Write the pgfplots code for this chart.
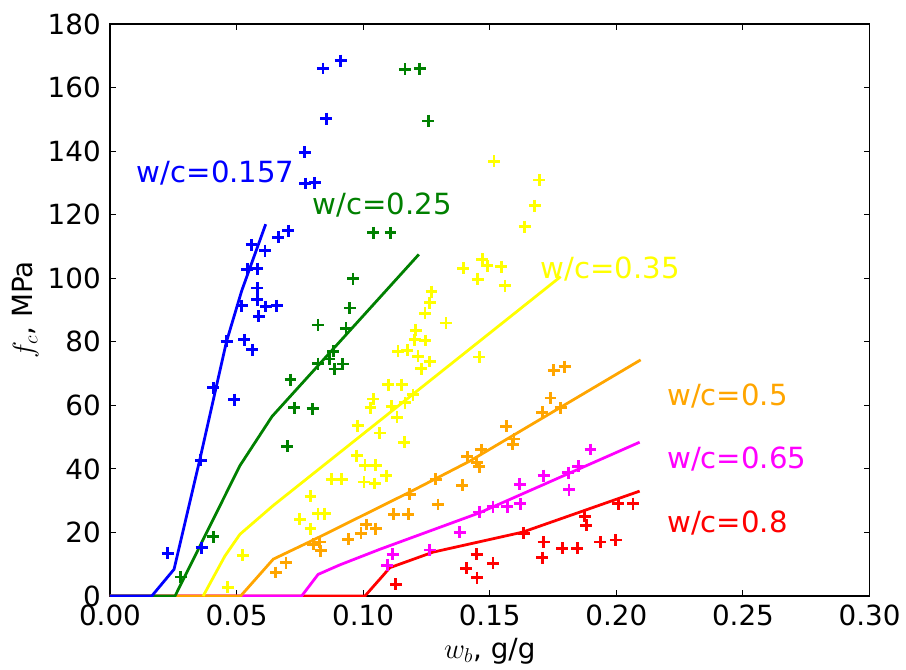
\documentclass[border=0pt]{standalone}
\usepackage{fontspec}
\setmainfont{DejaVu Sans}
\usepackage{pgfplots}
\pgfplotsset{compat=1.18}
\definecolor{mblue}{RGB}{0,0,255}
\definecolor{mgreen}{RGB}{0,128,0}
\definecolor{myellow}{RGB}{255,255,0}
\definecolor{morange}{RGB}{255,165,0}
\definecolor{mmagenta}{RGB}{255,0,255}
\definecolor{mred}{RGB}{255,0,0}
\begin{document}
\begin{tikzpicture}
\path (-79.2pt,-52.56pt) rectangle (573.12pt,429.12pt);
\begin{axis}[
  at={(0,0)}, anchor=south west,
  width=546.84pt, height=411.84pt, scale only axis,
  xmin=0, xmax=0.30, ymin=0, ymax=180,
  xtick={0,0.05,0.10,0.15,0.20,0.25,0.30},
  xticklabels={0.00,0.05,0.10,0.15,0.20,0.25,0.30},
  ytick={0,20,40,60,80,100,120,140,160,180},
  yticklabels={0,20,40,60,80,100,120,140,160,180},
  tick align=inside, tick pos=both,
  major tick length=4.2pt,
  tick style={black, line width=0.8pt},
  axis line style={black, line width=1pt},
  ticklabel style={font=\fontsize{20}{24}\selectfont},
  yticklabel style={inner sep=0pt, xshift=-6.5pt},
  xticklabel style={inner sep=0pt, yshift=-6.5pt},
  label style={font=\fontsize{20}{24}\selectfont},
  xlabel={$w_b$, g/g},
  ylabel={$f_c$, MPa},
  xlabel style={at={(axis description cs:0.5,-0.1084)}, anchor=base, inner sep=0pt},
  ylabel style={at={(axis description cs:-0.1014,0.5)}, anchor=base, inner sep=0pt},
  scatter marks/.style={only marks, mark=+, mark size=4.3pt, mark options={line width=2pt}},
  curve/.style={no marks, line width=2pt},
]
% scatter data
\addplot[scatter marks, color=mblue] coordinates {
(0.0841,166) (0.0911,168.5) (0.0854,150.2) (0.0769,139.6) (0.0771,129.8) (0.0809,130)
(0.0704,115) (0.0665,112.9) (0.0559,110.5) (0.0612,108.7) (0.0542,102.8) (0.0582,103)
(0.0582,96.9) (0.0582,93.2) (0.052,91.4) (0.0615,91.1) (0.0658,91.4) (0.0588,88)
(0.053,80.6) (0.0461,80.1) (0.0562,77.5) (0.0408,65.5) (0.0491,61.8) (0.0359,42.7)
(0.0362,15.2) (0.0228,13.4)
};
\addplot[scatter marks, color=mgreen] coordinates {
(0.1165,165.7) (0.1224,165.9) (0.1257,149.5) (0.104,114.3) (0.1108,114.3) (0.096,99.9)
(0.0947,90.6) (0.0822,85.3) (0.0932,84.3) (0.0882,77) (0.0866,74.6) (0.0919,73)
(0.0888,71.4) (0.0822,73.1) (0.0713,68.1) (0.0728,59.2) (0.08,58.9) (0.07,47.1)
(0.0408,18.7) (0.028,6)
};
\addplot[scatter marks, color=myellow] coordinates {
(0.1517,136.8) (0.1695,130.9) (0.1678,122.8) (0.1638,116.2) (0.1471,106) (0.149,103.9)
(0.1546,103.6) (0.1395,103.1) (0.1452,99.7) (0.156,97.6) (0.127,95.8) (0.1263,92.3)
(0.1244,89) (0.1327,85.9) (0.1207,83.6) (0.1204,80.6) (0.1246,80.4) (0.1138,77)
(0.1174,77.3) (0.1217,75.4) (0.1263,73.8) (0.123,71.5) (0.1458,75.2) (0.1099,66.5)
(0.1152,66.5) (0.1197,63.4) (0.1112,59.7) (0.1165,60.8) (0.1134,56.2) (0.1066,51.3)
(0.104,62) (0.1029,59.2) (0.0978,53.6) (0.1162,48.4) (0.0974,44.2) (0.1007,41.1)
(0.105,41.1) (0.1092,37.9) (0.0875,36.7) (0.0915,36.7) (0.1003,35.9) (0.1046,35.4)
(0.0792,31.4) (0.0822,25.9) (0.0848,25.9) (0.075,24.1) (0.0792,21.2) (0.0524,12.8)
(0.0465,2.7)
};
\addplot[scatter marks, color=morange] coordinates {
(0.1753,71) (0.1796,72.2) (0.174,62.3) (0.1708,57.8) (0.178,59.2) (0.1566,53.4)
(0.1596,49.4) (0.159,47.7) (0.1411,43.8) (0.1448,42.1) (0.1467,46.1) (0.1458,40.7)
(0.1286,36.7) (0.1392,34.8) (0.1184,32) (0.1296,28.8) (0.1121,25.7) (0.1178,25.7)
(0.1013,22.5) (0.0991,19.7) (0.105,21.2) (0.0941,17.8) (0.0803,16.3) (0.0829,17)
(0.0832,14.2) (0.0695,10.5) (0.0655,7.4)
};
\addplot[scatter marks, color=mmagenta] coordinates {
(0.1898,46.1) (0.1849,40.8) (0.181,38.8) (0.1813,33.5) (0.1713,37.9) (0.1619,35.1)
(0.1621,29) (0.1569,28.1) (0.1513,28.1) (0.1458,26.4) (0.1382,20.1) (0.1263,14.5)
(0.1116,13.1) (0.1095,9.7)
};
\addplot[scatter marks, color=mred] coordinates {
(0.2007,29.1) (0.2066,29.1) (0.1875,25.1) (0.1882,22.2) (0.1634,19.7) (0.1713,17)
(0.1707,12.1) (0.1786,15) (0.1846,15) (0.1937,17) (0.1998,17.6) (0.1448,13.1)
(0.1513,10.3) (0.1408,8.7) (0.145,5.8) (0.1129,3.7)
};
% model curves
\addplot[curve, color=mred] coordinates {
(0,0) (0.1007,0) (0.1079,6.5) (0.1105,8.9) (0.1276,13.8) (0.163,20.1) (0.2092,33)
};
\addplot[curve, color=mmagenta] coordinates {
(0,0) (0.0757,0) (0.0822,6.8) (0.0908,9.8) (0.1066,14.7) (0.146,26.2) (0.2092,48.4)
};
\addplot[curve, color=morange] coordinates {
(0,0) (0.0516,0) (0.0645,11.6) (0.080,17.5) (0.1184,32.7) (0.142,42.4) (0.2096,74.3)
};
\addplot[curve, color=myellow] coordinates {
(0.0368,0) (0.0454,12.6) (0.0513,19.4) (0.0645,28.5) (0.178,100.5)
};
\addplot[curve, color=mgreen] coordinates {
(0,0) (0.0257,0) (0.0513,41) (0.064,56.5) (0.122,107.5)
};
\addplot[curve, color=mblue] coordinates {
(0,0) (0.0165,0) (0.0253,8.4) (0.0355,43) (0.046,80) (0.052,96) (0.0615,117)
};
% labels
\node[anchor=base west, inner sep=0pt, text=mblue, font=\fontsize{21}{25}\selectfont] at (axis cs:0.0105,130) {w/c=0.157};
\node[anchor=base west, inner sep=0pt, text=mgreen, font=\fontsize{21}{25}\selectfont] at (axis cs:0.080,120) {w/c=0.25};
\node[anchor=base west, inner sep=0pt, text=myellow, font=\fontsize{21}{25}\selectfont] at (axis cs:0.170,100) {w/c=0.35};
\node[anchor=base west, inner sep=0pt, text=morange, font=\fontsize{21}{25}\selectfont] at (axis cs:0.220,60) {w/c=0.5};
\node[anchor=base west, inner sep=0pt, text=mmagenta, font=\fontsize{21}{25}\selectfont] at (axis cs:0.220,40) {w/c=0.65};
\node[anchor=base west, inner sep=0pt, text=mred, font=\fontsize{21}{25}\selectfont] at (axis cs:0.220,20) {w/c=0.8};
\end{axis}
\end{tikzpicture}
\end{document}
